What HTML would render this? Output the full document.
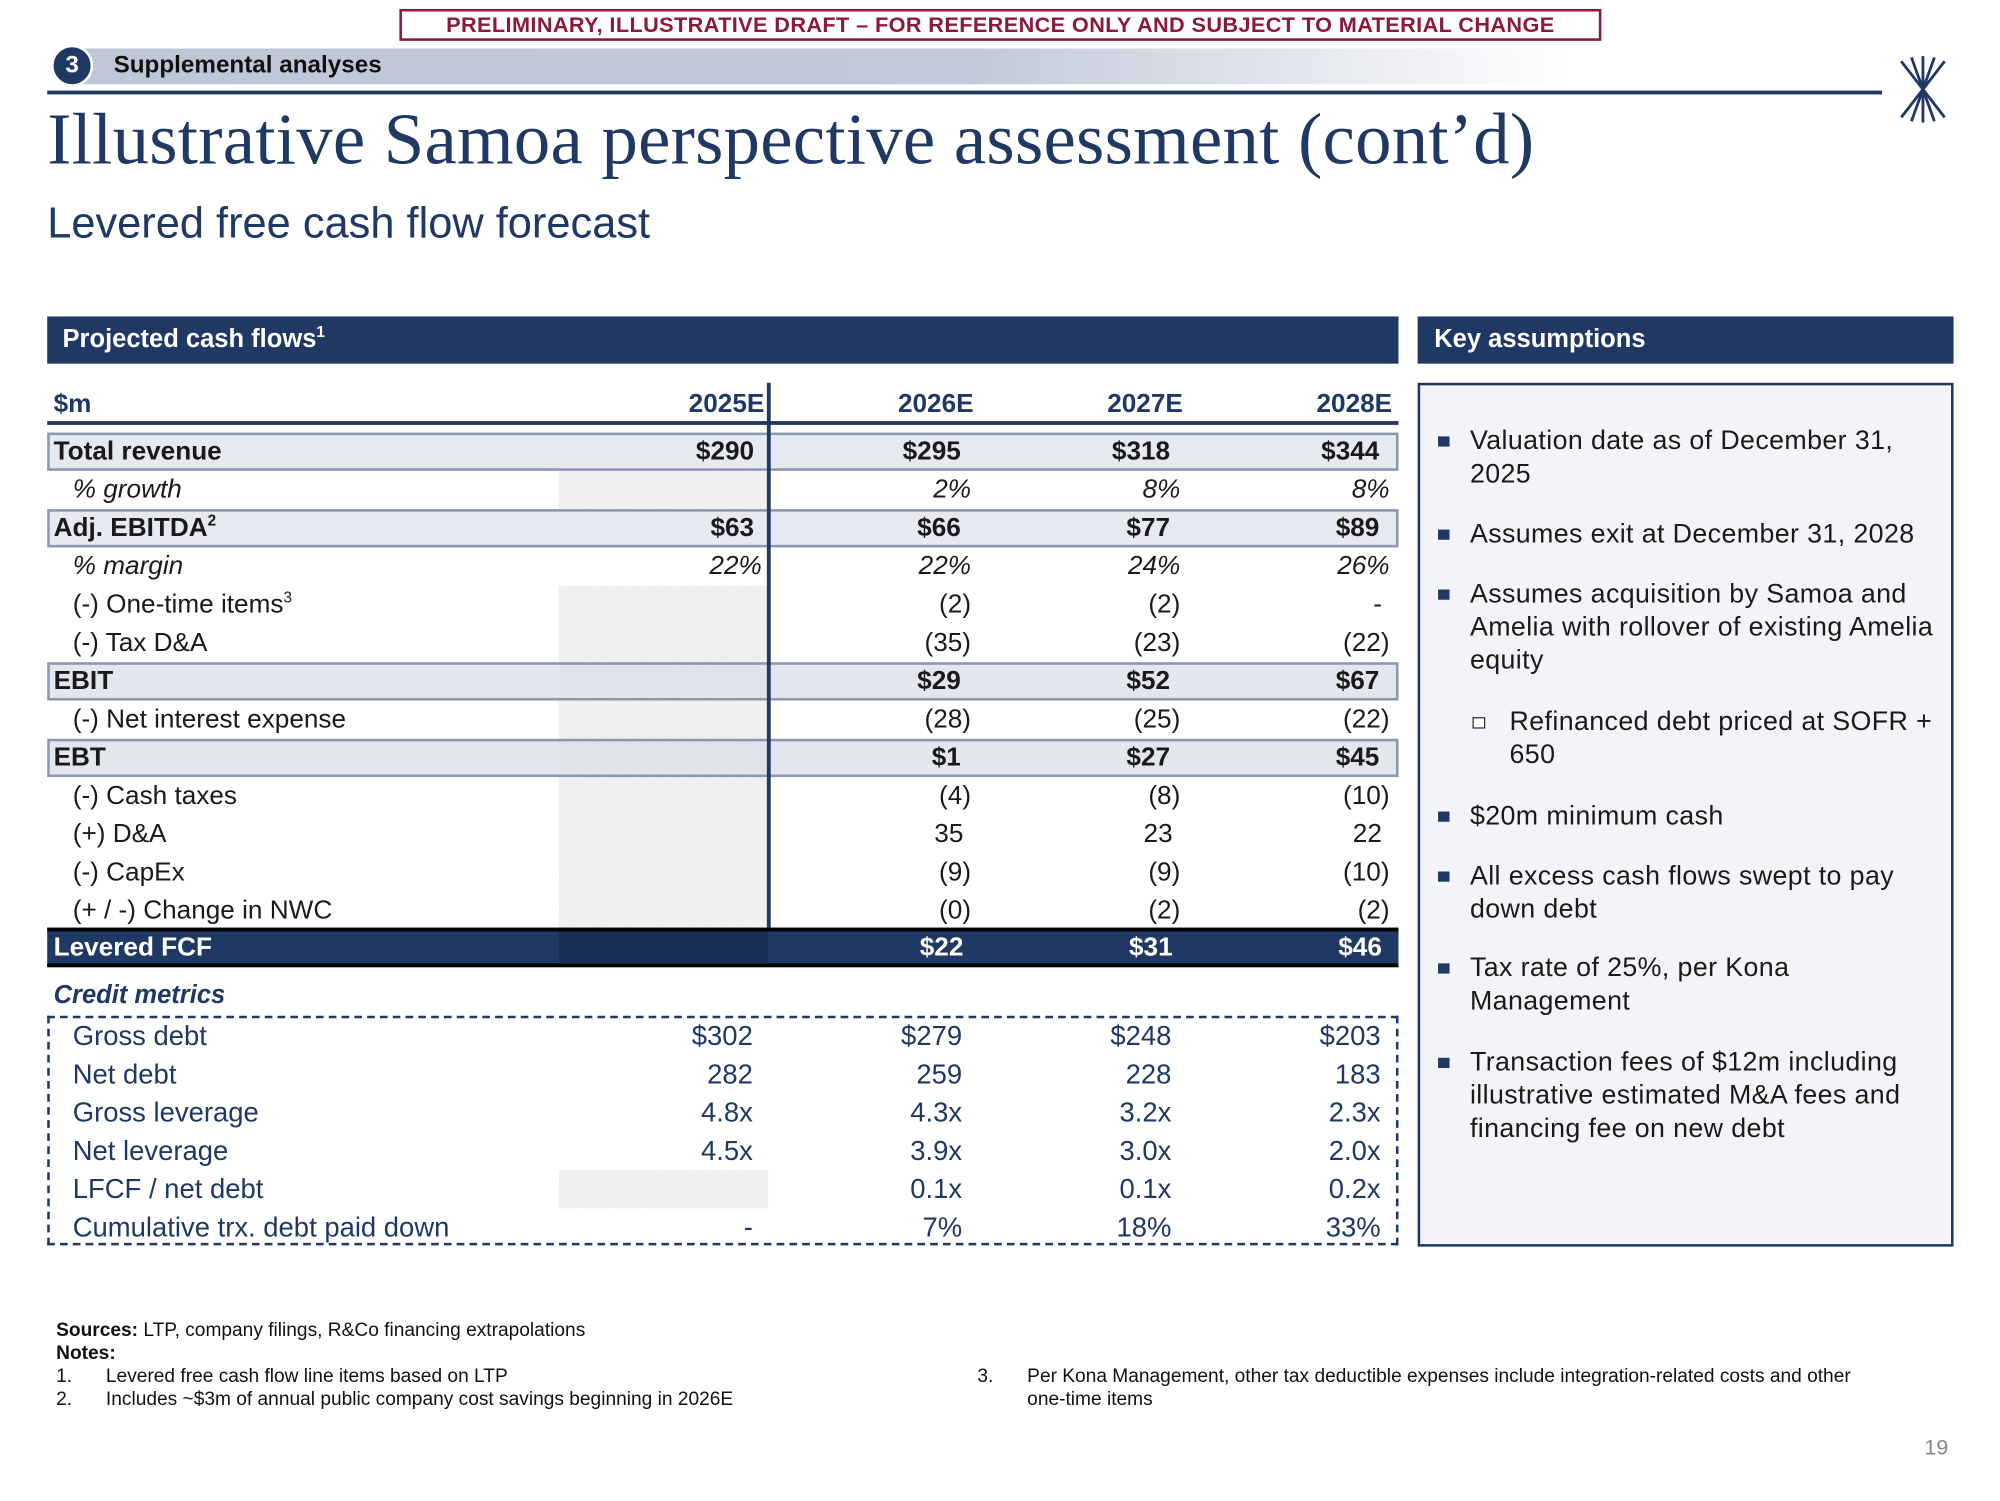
<!DOCTYPE html>
<html><head><meta charset="utf-8"><style>
*{margin:0;padding:0;box-sizing:border-box}
html,body{width:2000px;height:1500px;overflow:hidden;background:#fff}
#w{position:absolute;left:0;top:0;width:1568px;height:1176px;transform:scale(1.276);transform-origin:0 0;font-family:"Liberation Sans",sans-serif;color:#1a1a1a}
sup{font-size:12px;line-height:0;vertical-align:8px}
.a{position:absolute;white-space:nowrap}
.r{position:absolute;left:37px;width:1059px;height:30px;font-size:20.5px;line-height:30px}
.box{background:#E6E9EF;border:2px solid #8C98B0;height:30px}
.l{position:absolute;left:5px}
.i{left:20px}
.v{position:absolute;text-align:right;width:150px}
.c1{right:499px}.c2{right:335px}.c3{right:171px}.c4{right:7px}
.p{padding-right:6px}
.b{font-weight:bold}
.hatch{position:absolute;left:438px;width:164px;background:repeating-linear-gradient(45deg,#e9e9e9 0 1px,#f6f6f6 1px 2px)}
.cm{position:absolute;left:57px;font-size:21.5px;color:#1F3864;line-height:30px;width:1030px;height:30px}
.cm .v{top:0}
.bl{position:absolute;left:1127px;font-size:21px;letter-spacing:0.3px;line-height:26px;color:#1a1a1a}
.sq{position:absolute;left:0;top:9px;width:9px;height:8px;background:#1F3864}
.ft{font-size:15px;line-height:18px;color:#111}
</style></head><body><div id="w">
<div class="a" style="left:313px;top:7px;width:942px;height:25px;border:2px solid #8B1A3A;color:#8B1A3A;font-weight:bold;font-size:17px;letter-spacing:0.3px;line-height:21px;text-align:center">PRELIMINARY, ILLUSTRATIVE DRAFT – FOR REFERENCE ONLY AND SUBJECT TO MATERIAL CHANGE</div>
<div class="a" style="left:60px;top:38px;width:1170px;height:28px;background:linear-gradient(90deg,#BFC6D6 0%,#C2C9D8 60%,#fff 100%)"></div>
<div class="a" style="left:40px;top:35px;width:33px;height:33px;border-radius:50%;background:#1F3864;border:2px solid #fff;color:#fff;font-weight:bold;font-size:19px;line-height:29px;text-align:center">3</div>
<div class="a" style="left:89px;top:39px;font-size:19px;font-weight:bold;line-height:26px;color:#111">Supplemental analyses</div>
<div class="a" style="left:37px;top:71px;width:1438px;height:3px;background:#1F3864"></div>
<svg class="a" style="left:1484px;top:42px" width="46" height="56" viewBox="0 0 46 56"><g stroke="#1F3864" stroke-width="2.2" fill="none"><line x1="23" y1="2" x2="23" y2="54"/><line x1="6" y1="6" x2="40" y2="50"/><line x1="40" y1="6" x2="6" y2="50"/><line x1="14" y1="3" x2="32" y2="53"/><line x1="32" y1="3" x2="14" y2="53"/></g></svg>
<div class="a" style="left:37px;top:78px;font-family:'Liberation Serif',serif;font-size:57px;line-height:64px;color:#1F3864;letter-spacing:0.2px">Illustrative Samoa perspective assessment (cont’d)</div>
<div class="a" style="left:37px;top:155px;font-size:34px;line-height:40px;color:#1F3864">Levered free cash flow forecast</div>
<div class="a" style="left:37px;top:248px;width:1059px;height:37px;background:#1F3864;color:#fff;font-weight:bold;font-size:20px;line-height:37px;padding-left:12px">Projected cash flows<sup>1</sup></div>
<div class="a" style="left:1111px;top:248px;width:420px;height:37px;background:#1F3864;color:#fff;font-weight:bold;font-size:20px;line-height:37px;padding-left:13px">Key assumptions</div>
<div class="hatch" style="top:369px;height:30px"></div>
<div class="hatch" style="top:459px;height:270px"></div>
<div class="r b" style="top:302px;color:#1F3864"><span class="l">$m</span><span class="v" style="right:497px">2025E</span><span class="v" style="right:333px">2026E</span><span class="v" style="right:169px">2027E</span><span class="v" style="right:5px">2028E</span></div>
<div class="a" style="left:37px;top:330px;width:1059px;height:3px;background:#1F3864"></div>
<div class="r box b" style="top:339px;line-height:26px"><span class="l" style="left:3px">Total revenue</span><span class="v p" style="right:497px">$290</span><span class="v c2 p">$295</span><span class="v c3 p">$318</span><span class="v c4 p">$344</span></div>
<div class="r" style="top:369px;font-style:italic"><span class="l i">% growth</span><span class="v c2">2%</span><span class="v c3">8%</span><span class="v c4">8%</span></div>
<div class="r box b" style="top:399px;line-height:26px"><span class="l" style="left:3px">Adj. EBITDA<sup>2</sup></span><span class="v p" style="right:497px">$63</span><span class="v c2 p">$66</span><span class="v c3 p">$77</span><span class="v c4 p">$89</span></div>
<div class="r" style="top:429px;font-style:italic"><span class="l i">% margin</span><span class="v c1">22%</span><span class="v c2">22%</span><span class="v c3">24%</span><span class="v c4">26%</span></div>
<div class="r" style="top:459px"><span class="l i">(-) One-time items<sup>3</sup></span><span class="v c2">(2)</span><span class="v c3">(2)</span><span class="v c4 p">-</span></div>
<div class="r" style="top:489px"><span class="l i">(-) Tax D&amp;A</span><span class="v c2">(35)</span><span class="v c3">(23)</span><span class="v c4">(22)</span></div>
<div class="r box b" style="top:519px;line-height:26px;background:rgba(220,224,232,.8)"><span class="l" style="left:3px">EBIT</span><span class="v c2 p">$29</span><span class="v c3 p">$52</span><span class="v c4 p">$67</span></div>
<div class="r" style="top:549px"><span class="l i">(-) Net interest expense</span><span class="v c2">(28)</span><span class="v c3">(25)</span><span class="v c4">(22)</span></div>
<div class="r box b" style="top:579px;line-height:26px;background:rgba(220,224,232,.8)"><span class="l" style="left:3px">EBT</span><span class="v c2 p">$1</span><span class="v c3 p">$27</span><span class="v c4 p">$45</span></div>
<div class="r" style="top:609px"><span class="l i">(-) Cash taxes</span><span class="v c2">(4)</span><span class="v c3">(8)</span><span class="v c4">(10)</span></div>
<div class="r" style="top:639px"><span class="l i">(+) D&amp;A</span><span class="v c2 p">35</span><span class="v c3 p">23</span><span class="v c4 p">22</span></div>
<div class="r" style="top:669px"><span class="l i">(-) CapEx</span><span class="v c2">(9)</span><span class="v c3">(9)</span><span class="v c4">(10)</span></div>
<div class="r" style="top:699px"><span class="l i">(+ / -) Change in NWC</span><span class="v c2">(0)</span><span class="v c3">(2)</span><span class="v c4">(2)</span></div>
<div class="r b" style="top:727px;height:31px;background:#1F3864;color:#fff;border-top:3px solid #000;border-bottom:3px solid #000;line-height:25px"><span class="l" style="left:5px">Levered FCF</span><span class="hatch" style="left:401px;top:0;height:25px;background:#1a2f55"></span><span class="v c2 p">$22</span><span class="v c3 p">$31</span><span class="v c4 p">$46</span></div>
<div class="a" style="left:601px;top:300px;width:2.5px;height:427px;background:#1F3864"></div>
<div class="a" style="left:42px;top:769px;font-size:20px;font-weight:bold;font-style:italic;color:#1F3864">Credit metrics</div>
<div class="a" style="left:37px;top:796px;width:1059px;height:180px;border:2px dashed #1F3864"></div>
<div class="hatch" style="top:917px;height:30px;left:438px"></div>
<div class="cm" style="top:797px"><span>Gross debt</span><span class="v" style="right:497px">$302</span><span class="v" style="right:333px">$279</span><span class="v" style="right:169px">$248</span><span class="v" style="right:5px">$203</span></div>
<div class="cm" style="top:827px"><span>Net debt</span><span class="v" style="right:497px">282</span><span class="v" style="right:333px">259</span><span class="v" style="right:169px">228</span><span class="v" style="right:5px">183</span></div>
<div class="cm" style="top:857px"><span>Gross leverage</span><span class="v" style="right:497px">4.8x</span><span class="v" style="right:333px">4.3x</span><span class="v" style="right:169px">3.2x</span><span class="v" style="right:5px">2.3x</span></div>
<div class="cm" style="top:887px"><span>Net leverage</span><span class="v" style="right:497px">4.5x</span><span class="v" style="right:333px">3.9x</span><span class="v" style="right:169px">3.0x</span><span class="v" style="right:5px">2.0x</span></div>
<div class="cm" style="top:917px"><span>LFCF / net debt</span><span class="v" style="right:333px">0.1x</span><span class="v" style="right:169px">0.1x</span><span class="v" style="right:5px">0.2x</span></div>
<div class="cm" style="top:947px"><span>Cumulative trx. debt paid down</span><span class="v" style="right:497px">-</span><span class="v" style="right:333px">7%</span><span class="v" style="right:169px">18%</span><span class="v" style="right:5px">33%</span></div>
<div class="a" style="left:1111px;top:300px;width:420px;height:677px;border:2.5px solid #1F3864;background:#F3F4F8"></div>
<div class="bl" style="top:333px"><span class="sq"></span><div style="margin-left:25px">Valuation date as of December 31,<br>2025</div></div>
<div class="bl" style="top:406px"><span class="sq"></span><div style="margin-left:25px">Assumes exit at December 31, 2028</div></div>
<div class="bl" style="top:453px"><span class="sq"></span><div style="margin-left:25px">Assumes acquisition by Samoa and<br>Amelia with rollover of existing Amelia<br>equity</div></div>
<div class="bl" style="top:553px;left:1154px"><span style="position:absolute;left:0;top:9px;width:10px;height:9px;border:1px solid #333;background:#fff"></span><div style="margin-left:29px">Refinanced debt priced at SOFR +<br>650</div></div>
<div class="bl" style="top:627px"><span class="sq"></span><div style="margin-left:25px">$20m minimum cash</div></div>
<div class="bl" style="top:674px"><span class="sq"></span><div style="margin-left:25px">All excess cash flows swept to pay<br>down debt</div></div>
<div class="bl" style="top:746px"><span class="sq"></span><div style="margin-left:25px">Tax rate of 25%, per Kona<br>Management</div></div>
<div class="bl" style="top:820px"><span class="sq"></span><div style="margin-left:25px">Transaction fees of $12m including<br>illustrative estimated M&amp;A fees and<br>financing fee on new debt</div></div>
<div class="a ft" style="left:44px;top:1034px"><b>Sources:</b> LTP, company filings, R&amp;Co financing extrapolations<br><b>Notes:</b></div>
<div class="a ft" style="left:44px;top:1070px">1.<span style="position:absolute;left:39px">Levered free cash flow line items based on LTP</span><br>2.<span style="position:absolute;left:39px;top:18px">Includes ~$3m of annual public company cost savings beginning in 2026E</span></div>
<div class="a ft" style="left:766px;top:1070px">3.<span style="position:absolute;left:39px">Per Kona Management, other tax deductible expenses include integration-related costs and other<br>one-time items</span></div>
<div class="a" style="left:1508px;top:1125px;font-size:17px;color:#8a8a8a">19</div>
</div></body></html>
